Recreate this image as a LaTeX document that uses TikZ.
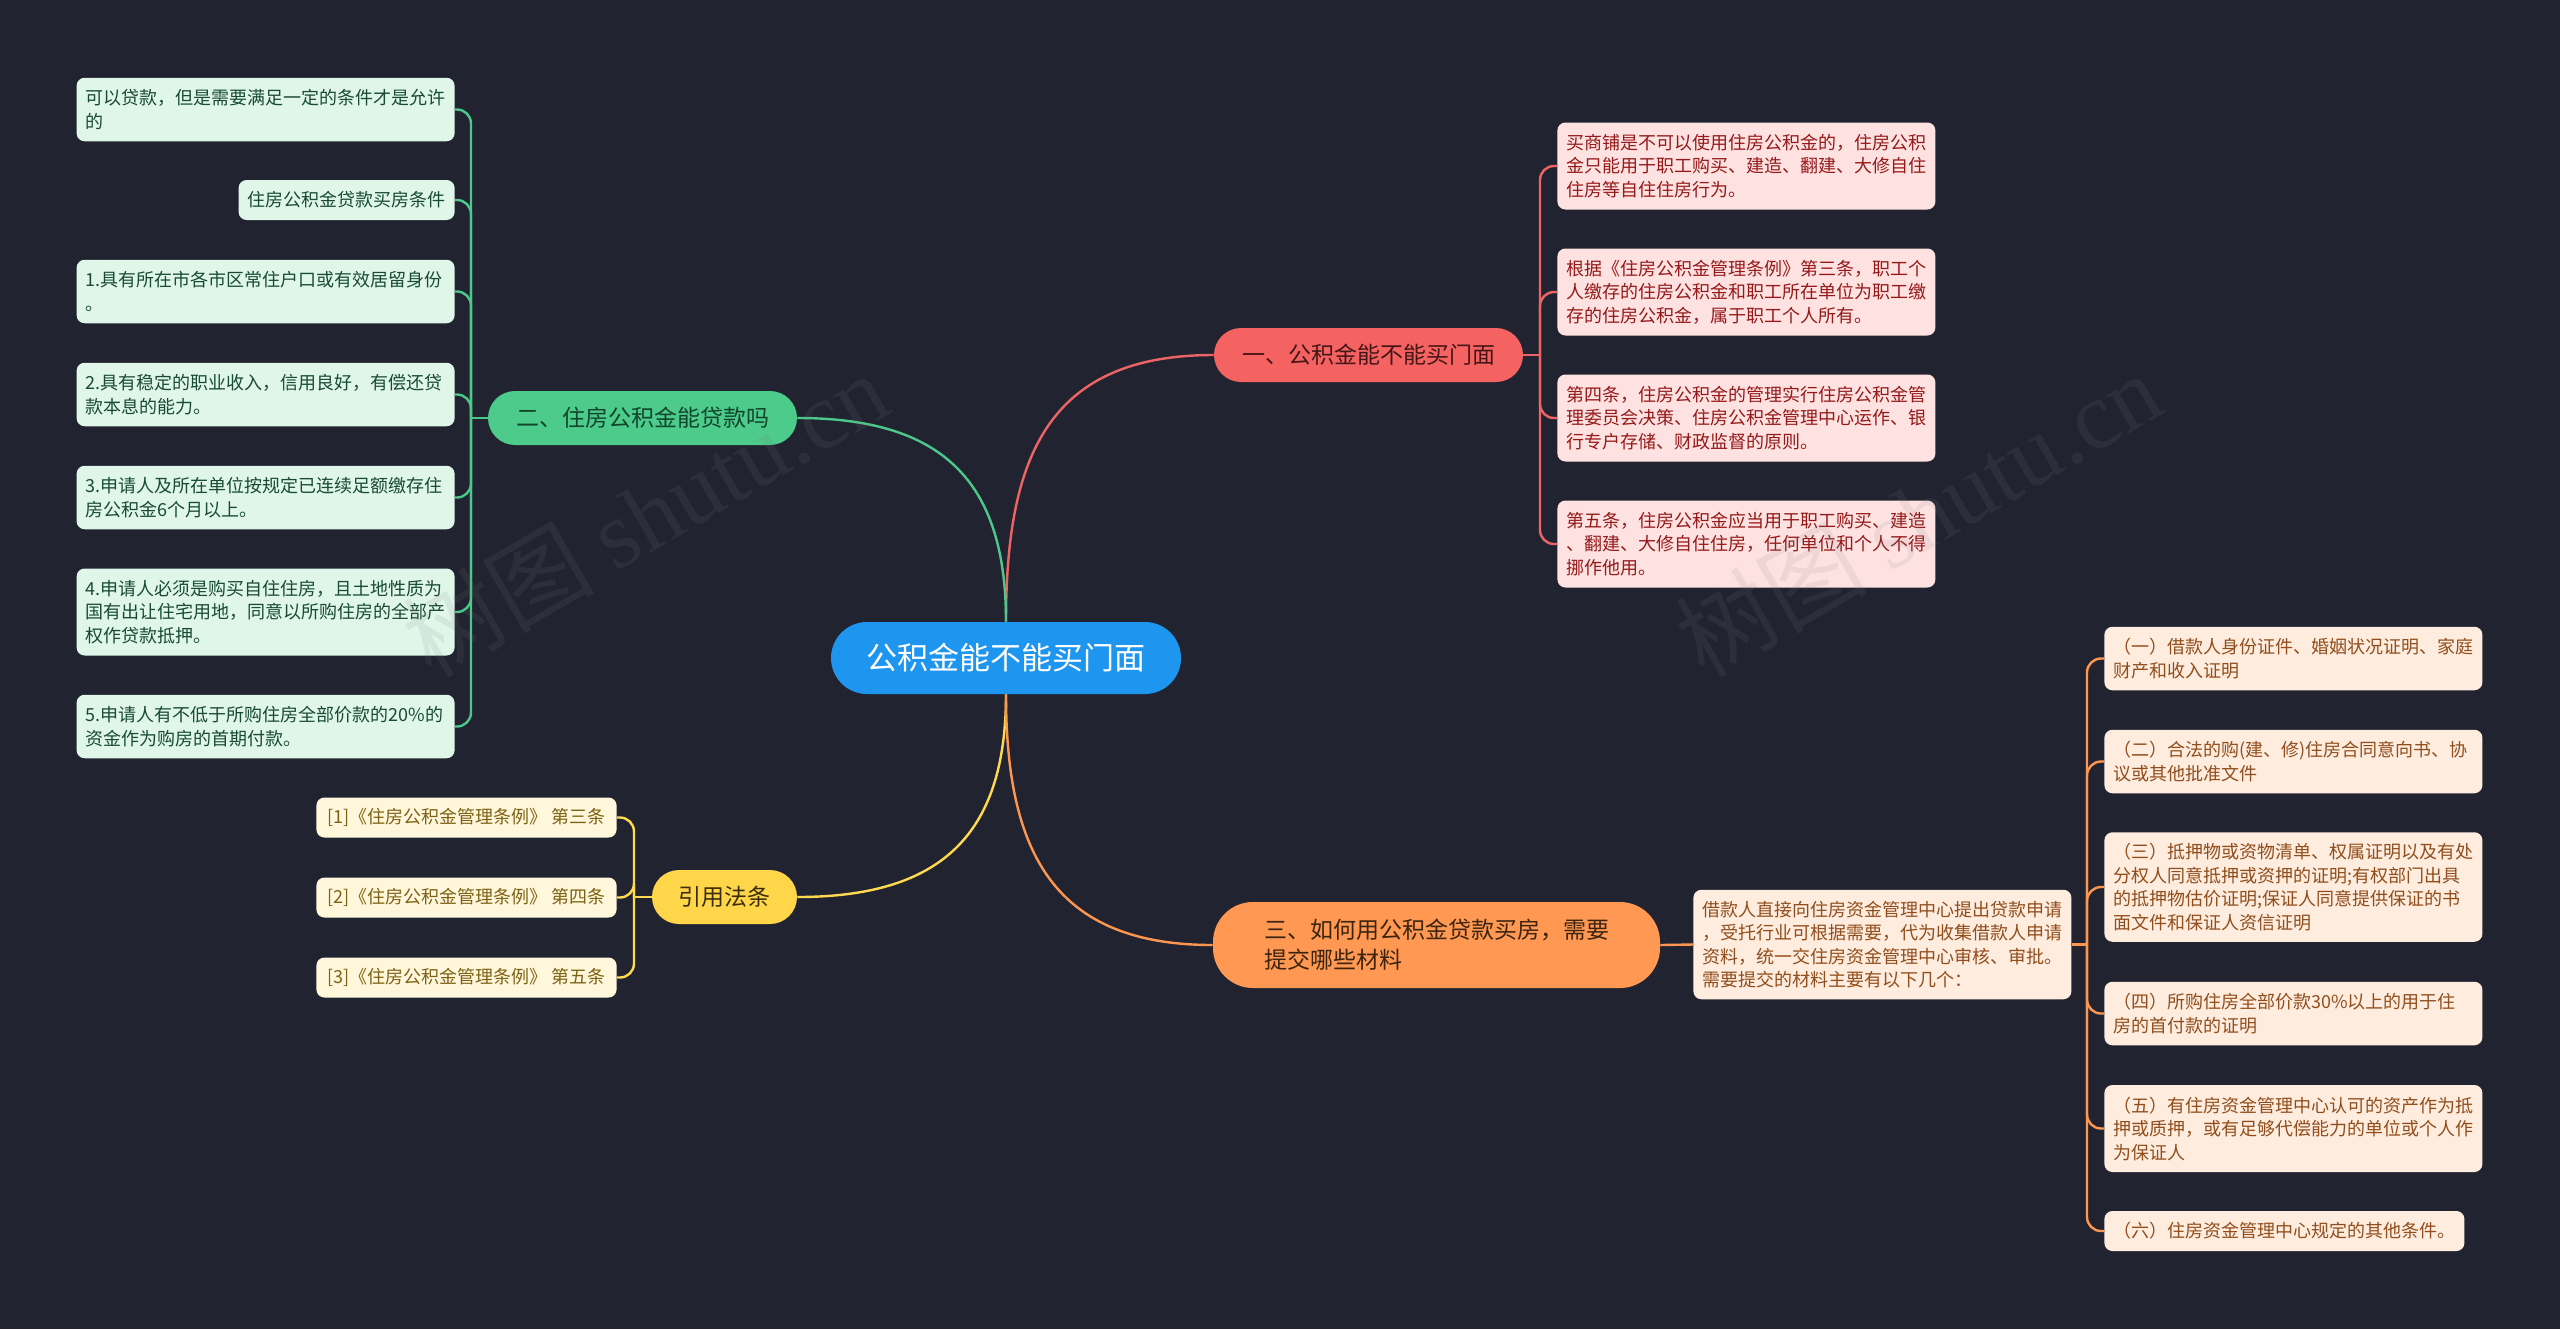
\documentclass[tikz,border=0pt]{standalone}
\usepackage{fontspec}
\setmainfont{Noto Sans CJK SC}
\newfontfamily\wmlatin{Liberation Serif}
\usepackage{xcolor}
\usetikzlibrary{positioning,calc}
\definecolor{bgcol}{RGB}{33,36,48}
\definecolor{rootcol}{RGB}{30,150,240}
\definecolor{redcol}{RGB}{244,98,98}
\definecolor{redline}{RGB}{238,100,100}
\definecolor{redfill}{RGB}{254,226,226}
\definecolor{redtext}{RGB}{150,25,25}
\definecolor{redtop}{RGB}{70,22,22}
\definecolor{greencol}{RGB}{76,203,139}
\definecolor{greenline}{RGB}{76,200,138}
\definecolor{greenfill}{RGB}{223,246,233}
\definecolor{greentext}{RGB}{25,75,50}
\definecolor{greentop}{RGB}{18,70,44}
\definecolor{orangecol}{RGB}{255,152,82}
\definecolor{orangeline}{RGB}{255,150,80}
\definecolor{orangefill}{RGB}{254,236,222}
\definecolor{orangetext}{RGB}{145,78,28}
\definecolor{orangetop}{RGB}{60,36,16}
\definecolor{yellowcol}{RGB}{255,213,74}
\definecolor{yellowline}{RGB}{255,218,80}
\definecolor{yellowfill}{RGB}{255,247,220}
\definecolor{yellowtext}{RGB}{125,98,20}
\definecolor{yellowtop}{RGB}{58,46,10}
\definecolor{wmcol}{RGB}{128,128,128}

\begin{document}
\begin{tikzpicture}[x=0.5pt,y=-0.5pt,
  rootbox/.style={fill=rootcol,text=white,rounded corners=18pt,minimum width=175pt,minimum height=36pt,font=\fontsize{15.5}{18}\selectfont},
  topicbox/.style={rounded corners=13.5pt,minimum height=27pt,font=\fontsize{11.5}{15}\selectfont,align=left},
  leafbox/.style={rounded corners=4pt,inner xsep=4.5pt,inner ysep=0pt,font=\fontsize{9}{11.75}\selectfont,align=left},
  wide/.style={text width=180pt},
  ln1/.style={minimum height=20pt}, ln2/.style={minimum height=31.75pt},
  ln3/.style={minimum height=43.5pt}, ln4/.style={minimum height=54.75pt},
  rleaf/.style={leafbox,fill=redfill,text=redtext},
  gleaf/.style={leafbox,fill=greenfill,text=greentext},
  oleaf/.style={leafbox,fill=orangefill,text=orangetext},
  yleaf/.style={leafbox,fill=yellowfill,text=yellowtext,inner xsep=5.5pt},
  link/.style={line width=1.2pt},
  fork/.style={line width=1.2pt,rounded corners=7pt},
  wmark/.style={rotate=30,text=wmcol,text opacity=0.12,font=\fontsize{48}{48}\selectfont}]

\fill[bgcol] (0,0) rectangle (2560,1329);
\useasboundingbox (0,0) rectangle (2560,1329);

\node[rootbox] (root) at (1006,658) {公积金能不能买门面};
\node[topicbox,fill=redcol,text=redtop,minimum width=154.5pt] (t1) at (1368.5,355) {一、公积金能不能买门面};
\node[topicbox,fill=greencol,text=greentop,minimum width=154.5pt] (t2) at (642.5,418) {二、住房公积金能贷款吗};
\node[topicbox,fill=orangecol,text=orangetop,minimum width=223.5pt,minimum height=43pt,rounded corners=20pt] (t3) at (1436.5,945) {三、如何用公积金贷款买房，需要\\提交哪些材料};
\node[topicbox,fill=yellowcol,text=yellowtop,minimum width=72.5pt] (t4) at (724.5,897) {引用法条};

\node[rleaf,wide,ln3,anchor=west] (r1) at (1557,166) {买商铺是不可以使用住房公积金的，住房公积\\金只能用于职工购买、建造、翻建、大修自住\\住房等自住住房行为。};
\node[rleaf,wide,ln3,anchor=west] (r2) at (1557,292) {根据《住房公积金管理条例》第三条，职工个\\人缴存的住房公积金和职工所在单位为职工缴\\存的住房公积金，属于职工个人所有。};
\node[rleaf,wide,ln3,anchor=west] (r3) at (1557,418) {第四条，住房公积金的管理实行住房公积金管\\理委员会决策、住房公积金管理中心运作、银\\行专户存储、财政监督的原则。};
\node[rleaf,wide,ln3,anchor=west] (r4) at (1557,544) {第五条，住房公积金应当用于职工购买、建造\\、翻建、大修自住住房，任何单位和个人不得\\挪作他用。};

\node[gleaf,wide,ln2,anchor=east] (g1) at (455,109.5) {可以贷款，但是需要满足一定的条件才是允许\\的};
\node[gleaf,ln1,anchor=east] (g2) at (455,200) {住房公积金贷款买房条件};
\node[gleaf,wide,ln2,anchor=east] (g3) at (455,291.5) {1.具有所在市各市区常住户口或有效居留身份\\。};
\node[gleaf,wide,ln2,anchor=east] (g4) at (455,394.5) {2.具有稳定的职业收入，信用良好，有偿还贷\\款本息的能力。};
\node[gleaf,wide,ln2,anchor=east] (g5) at (455,497.5) {3.申请人及所在单位按规定已连续足额缴存住\\房公积金6个月以上。};
\node[gleaf,wide,ln3,anchor=east] (g6) at (455,612) {4.申请人必须是购买自住住房，且土地性质为\\国有出让住宅用地，同意以所购住房的全部产\\权作贷款抵押。};
\node[gleaf,wide,ln2,anchor=east] (g7) at (455,726.5) {5.申请人有不低于所购住房全部价款的20\%的\\资金作为购房的首期付款。};

\node[oleaf,wide,ln4,anchor=west] (om) at (1693,944.5) {借款人直接向住房资金管理中心提出贷款申请\\，受托行业可根据需要，代为收集借款人申请\\资料，统一交住房资金管理中心审核、审批。\\需要提交的材料主要有以下几个：};
\node[oleaf,wide,ln2,anchor=west] (o1) at (2104,658.5) {（一）借款人身份证件、婚姻状况证明、家庭\\财产和收入证明};
\node[oleaf,wide,ln2,anchor=west] (o2) at (2104,761.5) {（二）合法的购(建、修)住房合同意向书、协\\议或其他批准文件};
\node[oleaf,wide,ln4,anchor=west] (o3) at (2104,887) {（三）抵押物或资物清单、权属证明以及有处\\分权人同意抵押或资押的证明;有权部门出具\\的抵押物估价证明;保证人同意提供保证的书\\面文件和保证人资信证明};
\node[oleaf,wide,ln2,anchor=west] (o4) at (2104,1013.5) {（四）所购住房全部价款30\%以上的用于住\\房的首付款的证明};
\node[oleaf,wide,ln3,anchor=west] (o5) at (2104,1128.5) {（五）有住房资金管理中心认可的资产作为抵\\押或质押，或有足够代偿能力的单位或个人作\\为保证人};
\node[oleaf,ln1,anchor=west] (o6) at (2104,1231) {（六）住房资金管理中心规定的其他条件。};

\node[yleaf,ln1,minimum width=149pt,anchor=east] (y1) at (617,817.5) {[1]《住房公积金管理条例》 第三条};
\node[yleaf,ln1,minimum width=149pt,anchor=east] (y2) at (617,897.5) {[2]《住房公积金管理条例》 第四条};
\node[yleaf,ln1,minimum width=149pt,anchor=east] (y3) at (617,977.5) {[3]《住房公积金管理条例》 第五条};

\coordinate (rj) at (1540,355);
\coordinate (gj) at (471,418);
\coordinate (oj) at (2087,944.5);
\coordinate (yj) at (634,897);

\draw[link,redline] (root.north) to[out=90,in=180,looseness=1.25] (t1.west);
\draw[link,greenline] (root.north) to[out=90,in=0,looseness=1.25] (t2.east);
\draw[link,yellowline] (root.south) to[out=-90,in=0,looseness=1.25] (t4.east);
\draw[link,orangeline] (root.south) to[out=-90,in=180,looseness=1.25] (t3.west);

\draw[link,redline] (t1.east) -- (rj);
\foreach \i in {1,...,4} \draw[fork,redline] (rj) |- (r\i.west);
\draw[link,greenline] (t2.west) -- (gj);
\foreach \i in {1,...,7} \draw[fork,greenline] (gj) |- (g\i.east);
\draw[link,orangeline] (t3.east) -- (om.west);
\draw[link,orangeline] (om.east) -- (oj);
\foreach \i in {1,...,6} \draw[fork,orangeline] (oj) |- (o\i.west);
\draw[link,yellowline] (t4.west) -- (yj);
\foreach \i in {1,2,3} \draw[fork,yellowline] (yj) |- (y\i.east);

\node[wmark] (wm1) at (645,514) {树图 {\wmlatin shutu.cn}};
\node[wmark] (wm2) at (1918,514) {树图 {\wmlatin shutu.cn}};
\end{tikzpicture}
\end{document}
